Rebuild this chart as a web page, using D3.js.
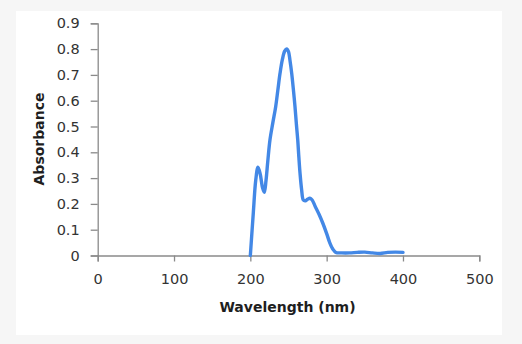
<!DOCTYPE html>
<html>
<head>
<meta charset="utf-8">
<script src="https://cdn.jsdelivr.net/npm/d3@7"></script>
<style>
  html, body { margin: 0; padding: 0; background: #f6f6f6; }
  svg { display: block; }
  text { font-family: "DejaVu Sans", sans-serif; }
</style>
</head>
<body>
<script>
// UV absorbance spectrum
const wavelength = [200, 204, 207, 210, 213, 216, 218.3, 220.5, 223, 225.7, 229.5, 233.2, 236, 238.9, 242, 245, 247.6, 250, 252, 254.2, 256.5, 258.5, 260.3, 262.1, 263.6, 265.1, 267.2, 269.4, 272, 275, 278, 281, 285, 290, 295, 300, 304, 308, 312, 320, 330, 340, 350, 360, 370, 380, 390, 400];
const absorbance = [0.0, 0.17, 0.29, 0.342, 0.315, 0.262, 0.245, 0.29, 0.37, 0.448, 0.515, 0.577, 0.64, 0.706, 0.76, 0.792, 0.801, 0.79, 0.755, 0.706, 0.64, 0.577, 0.51, 0.448, 0.38, 0.319, 0.255, 0.215, 0.212, 0.218, 0.222, 0.215, 0.19, 0.16, 0.125, 0.085, 0.05, 0.025, 0.012, 0.01, 0.01, 0.012, 0.013, 0.01, 0.008, 0.012, 0.013, 0.012];

const xTicks = [0, 100, 200, 300, 400, 500];
const yTicks = [0, 0.1, 0.2, 0.3, 0.4, 0.5, 0.6, 0.7, 0.8, 0.9];

const width = 522, height = 344;
const svg = d3.select("body").append("svg")
  .attr("width", width).attr("height", height);

// white chart panel
svg.append("rect")
  .attr("x", 16).attr("y", 11).attr("width", 486).attr("height", 324)
  .attr("fill", "#ffffff");

const x = d3.scaleLinear().domain([0, 500]).range([97.7, 479.3]);
const y = d3.scaleLinear().domain([0, 0.9]).range([255.5, 23.3]);

const axisColor = "#8a8a8a";
const labelColor = "#333333";

// y axis
const gy = svg.append("g")
  .attr("transform", `translate(${x(0)},0)`)
  .call(d3.axisLeft(y).tickValues(yTicks).tickSize(7).tickPadding(11)
    .tickFormat(d => d === 0 ? "0" : d3.format(".1f")(d)));
// x axis
const gx = svg.append("g")
  .attr("transform", `translate(0,${y(0)})`)
  .call(d3.axisBottom(x).tickValues(xTicks).tickSize(6).tickPadding(12)
    .tickFormat(d3.format("d")));

[gx, gy].forEach(g => {
  g.select(".domain").attr("stroke", axisColor).attr("stroke-width", 1.3);
  g.selectAll(".tick line").attr("stroke", axisColor).attr("stroke-width", 1.3);
  g.selectAll(".tick text")
    .attr("fill", labelColor)
    .style("font-family", "'DejaVu Sans', sans-serif")
    .style("font-size", "14.5px");
});

// spectrum line
const line = d3.line()
  .x((d, i) => x(wavelength[i]))
  .y((d, i) => y(absorbance[i]))
  .curve(d3.curveCatmullRom.alpha(0.5));

svg.append("path")
  .datum(absorbance)
  .attr("d", line)
  .attr("fill", "none")
  .attr("stroke", "#4388e6")
  .attr("stroke-width", 3.4)
  .attr("stroke-linejoin", "round")
  .attr("stroke-linecap", "round");

// axis titles
svg.append("text")
  .attr("x", 287.5).attr("y", 312)
  .attr("text-anchor", "middle")
  .attr("fill", "#1e1e1e")
  .style("font-size", "14px").style("font-weight", "bold")
  .text("Wavelength (nm)");

svg.append("text")
  .attr("transform", "translate(44,139) rotate(-90)")
  .attr("text-anchor", "middle")
  .attr("fill", "#1e1e1e")
  .style("font-size", "14px").style("font-weight", "bold")
  .text("Absorbance");
</script>
</body>
</html>
